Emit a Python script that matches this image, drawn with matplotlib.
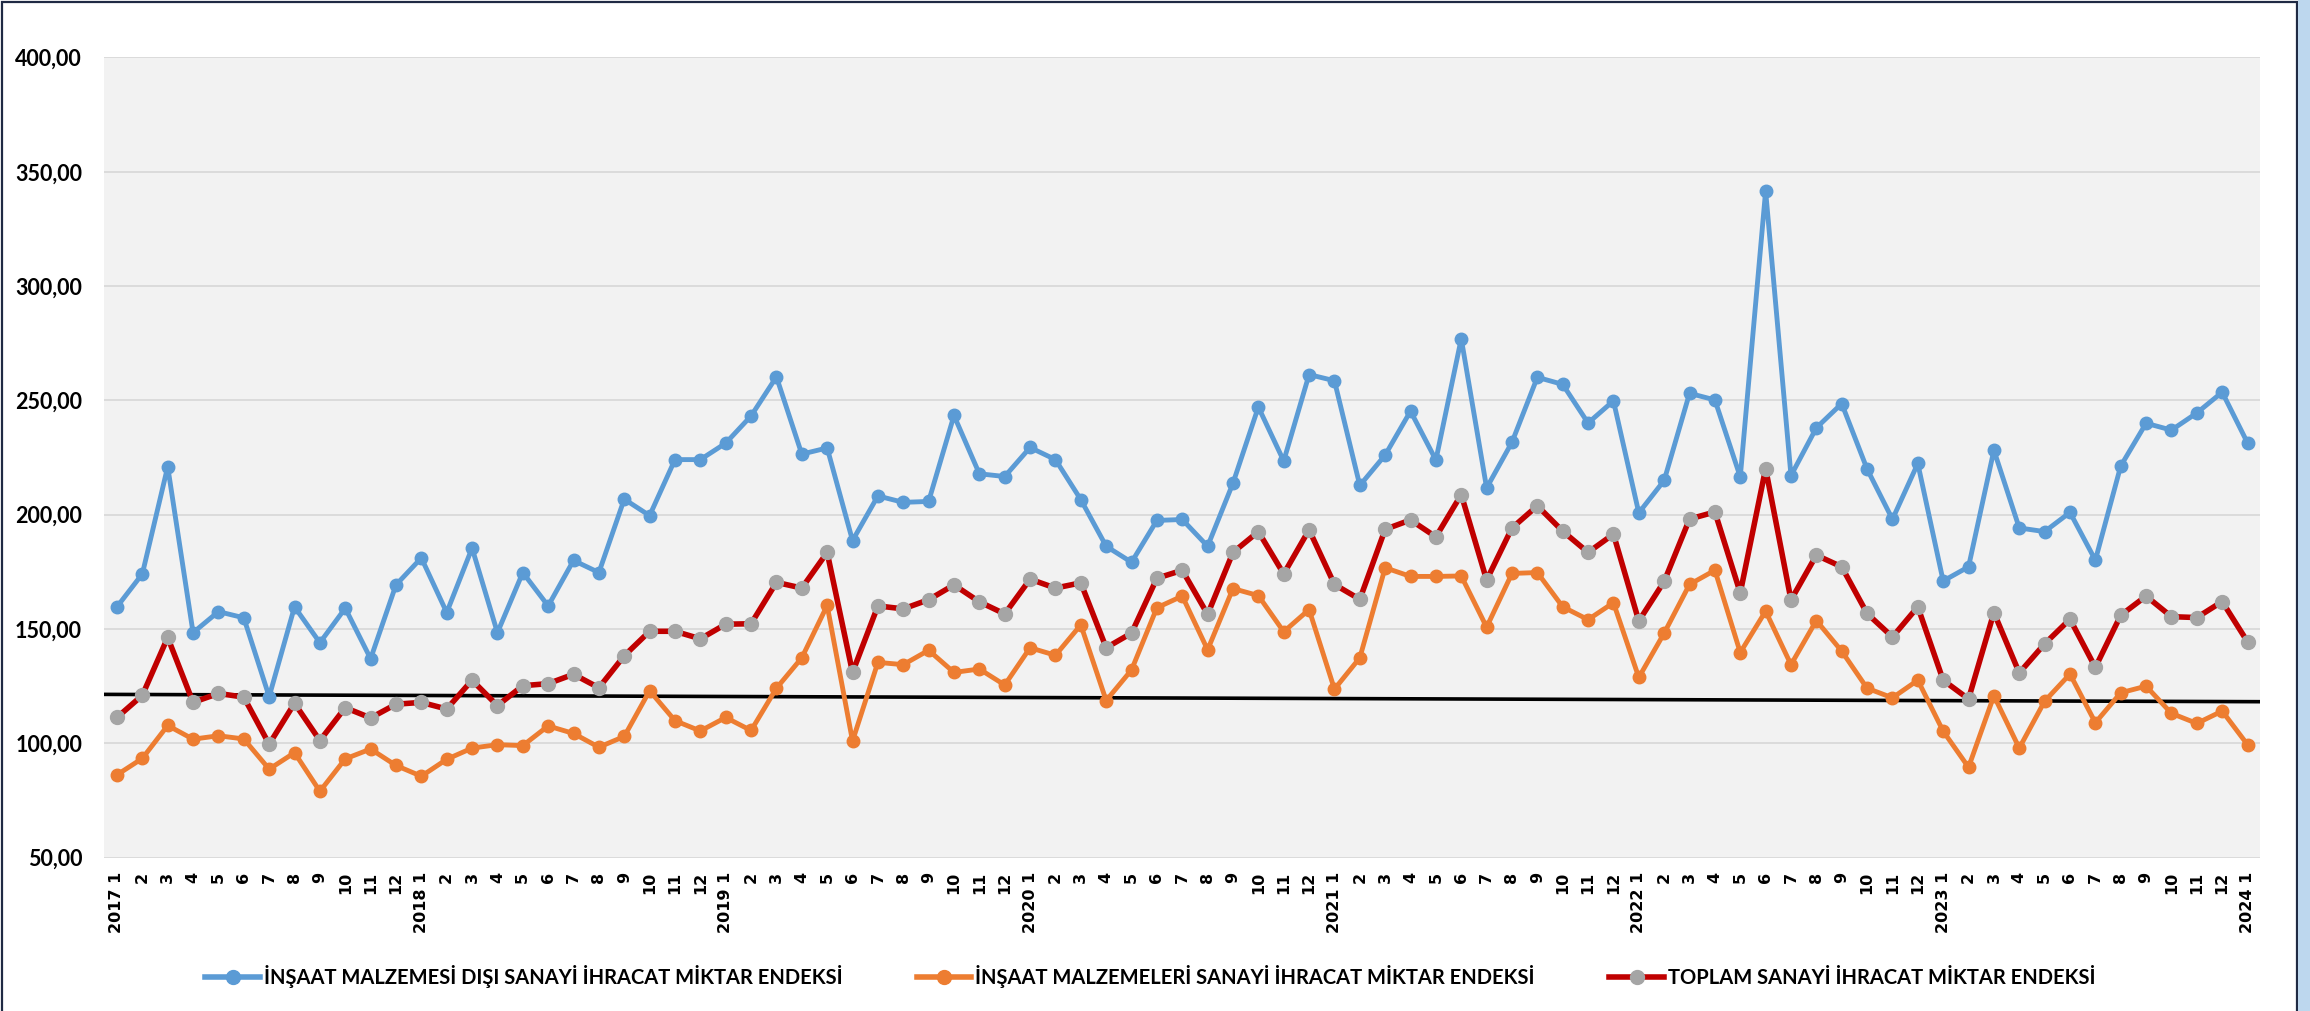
import numpy as np
import matplotlib.pyplot as plt
from matplotlib.lines import Line2D
from matplotlib.patches import Rectangle

# monthly index values, 2017-1 .. 2024-1
years = list(range(2017, 2025))
dis_sanayi = [159.7, 174.1, 221.0, 148.4, 157.6, 154.9, 120.4, 159.7, 144.0, 159.1, 137.0, 169.3,
              181.1, 157.2, 185.4, 148.4, 174.7, 160.1, 180.0, 174.7, 206.8, 199.6, 224.1, 224.1,
              231.3, 243.2, 260.3, 226.5, 229.2, 188.7, 208.2, 205.4, 205.8, 243.4, 217.9, 216.7,
              229.4, 224.1, 206.6, 186.2, 179.2, 197.5, 197.9, 186.2, 213.8, 247.1, 223.5, 261.3,
              258.6, 212.8, 226.1, 245.3, 223.9, 277.0, 211.7, 231.7, 260.1, 257.0, 240.1, 249.8,
              200.8, 215.0, 253.1, 250.2, 216.5, 341.6, 217.1, 238.0, 248.6, 220.0, 198.0, 222.4,
              171.0, 177.2, 228.2, 194.2, 192.6, 201.0, 180.1, 221.3, 240.0, 237.0, 244.5, 253.6,
              231.4]
insaat = [86.2, 93.4, 107.8, 101.8, 103.3, 101.9, 88.7, 95.9, 79.0, 93.2, 97.5, 90.3,
          85.6, 93.0, 97.9, 99.4, 99.0, 107.6, 104.3, 98.3, 103.0, 123.0, 109.9, 105.4,
          111.3, 105.6, 124.1, 137.4, 160.3, 101.0, 135.4, 134.4, 140.7, 131.0, 132.5, 125.5,
          141.8, 138.5, 151.8, 118.7, 132.1, 159.3, 164.4, 140.9, 167.7, 164.6, 148.8, 158.5,
          123.7, 137.4, 176.8, 173.0, 173.0, 173.2, 150.8, 174.3, 174.7, 159.7, 154.1, 161.5,
          128.8, 148.2, 169.5, 175.7, 139.7, 157.8, 134.4, 153.7, 140.3, 124.1, 119.9, 127.6,
          105.3, 89.5, 120.8, 97.9, 118.4, 130.3, 109.0, 122.1, 125.0, 113.1, 108.7, 114.1,
          99.4]
toplam = [111.3, 121.0, 146.3, 117.9, 121.8, 120.2, 99.6, 117.5, 101.2, 115.6, 111.1, 117.1,
          117.9, 115.0, 127.6, 116.5, 125.2, 126.1, 130.2, 124.3, 138.3, 149.0, 149.0, 145.7,
          152.1, 152.3, 170.4, 167.9, 183.5, 131.0, 160.1, 158.8, 162.8, 169.3, 161.9, 156.6,
          171.8, 167.9, 170.2, 141.8, 148.2, 172.2, 175.7, 156.4, 183.5, 192.6, 174.1, 193.4,
          169.5, 163.0, 193.6, 197.7, 190.3, 208.8, 171.4, 194.2, 203.9, 192.8, 183.5, 191.5,
          153.5, 170.8, 198.1, 201.2, 165.8, 220.2, 162.7, 182.3, 177.2, 156.8, 146.5, 159.7,
          127.6, 119.4, 157.2, 130.8, 143.5, 154.3, 133.2, 156.0, 164.4, 155.4, 155.0, 162.0,
          144.4]
trend_start, trend_end = 121.4, 118.2

labels = ["İNŞAAT MALZEMESİ DIŞI SANAYİ İHRACAT MİKTAR ENDEKSİ",
          "İNŞAAT MALZEMELERİ SANAYİ İHRACAT MİKTAR ENDEKSİ",
          "TOPLAM SANAYİ İHRACAT MİKTAR ENDEKSİ"]

# tick labels: "2017 1", "2", ... "12", "2018 1", ...
ticklabels = []
for y in years:
    for m in range(1, 13):
        ticklabels.append(f"{y} {m}" if m == 1 else str(m))
ticklabels = ticklabels[:len(toplam)]
x = np.arange(len(toplam))

fig = plt.figure(figsize=(23.1, 10.11), dpi=100)
ax = fig.add_axes([0.04515, 0.15173, 0.9333, 0.7914])
ax.set_facecolor('#F2F2F2')

ax.plot([-0.5, len(x) - 0.5], [trend_start, trend_end], color='black', lw=2.6, zorder=2)
ax.plot(x, dis_sanayi, color='#5B9BD5', lw=3.5, marker='o', ms=9,
        mfc='#5B9BD5', mec='#5B9BD5', zorder=3)
ax.plot(x, insaat, color='#ED7D31', lw=3.5, marker='o', ms=9,
        mfc='#ED7D31', mec='#ED7D31', zorder=3)
ax.plot(x, toplam, color='#C00000', lw=4.0, marker='o', ms=10,
        mfc='#A5A5A5', mec='#A5A5A5', zorder=4)

ax.set_xlim(-0.5, len(x) - 0.5)
ax.set_ylim(50, 400)
ax.set_yticks(np.arange(50, 401, 50))
ax.set_yticklabels([f"{v:.2f}".replace('.', ',') for v in np.arange(50, 401, 50)],
                   fontfamily='Lato', fontweight='bold', fontsize=15.5)
ax.set_xticks(x)
ax.set_xticklabels(ticklabels, rotation=90, fontfamily='DejaVu Sans',
                   fontweight='bold', fontsize=11.5)
ax.tick_params(axis='both', length=0)
ax.tick_params(axis='y', pad=16)
ax.tick_params(axis='x', pad=10)
ax.grid(axis='y', color='#D9D9D9', lw=1.3, zorder=0)
ax.set_axisbelow(True)
for s in ax.spines.values():
    s.set_visible(False)

handles = [
    Line2D([], [], color='#5B9BD5', lw=4, marker='o', ms=10, mfc='#5B9BD5', mec='#5B9BD5'),
    Line2D([], [], color='#ED7D31', lw=4, marker='o', ms=10, mfc='#ED7D31', mec='#ED7D31'),
    Line2D([], [], color='#C00000', lw=4, marker='o', ms=10, mfc='#A5A5A5', mec='#A5A5A5'),
]
fig.legend(handles, labels, loc='center', bbox_to_anchor=(0.498, 1 - 977 / 1011), ncol=3,
           frameon=False, handlelength=2.7, handletextpad=0.2, columnspacing=3.7,
           prop={'family': 'Lato', 'weight': 'bold', 'size': 14.5})

# outer frame and blue strip on the right
fig.add_artist(Rectangle((2 / 2310, -0.05), 2295 / 2310, 1.05 - 2 / 1011,
                         transform=fig.transFigure, fill=False, ec='#1F2A44', lw=1.6))
fig.add_artist(Rectangle((2298 / 2310, -0.05), 0.01, 1.1,
                         transform=fig.transFigure, fc='#BDD7EE', ec='none'))

fig.savefig('out.png', dpi=100)
